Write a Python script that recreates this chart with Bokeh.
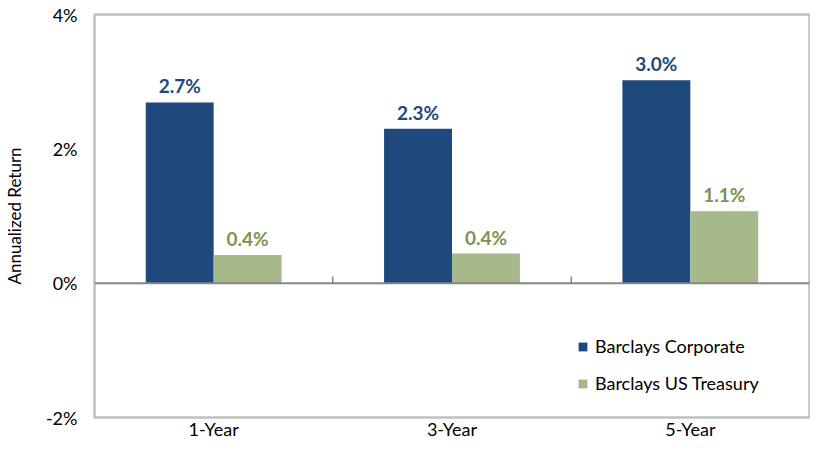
from bokeh.plotting import figure
from bokeh.models import (ColumnDataSource, FactorRange, Range1d, FixedTicker,
                          PrintfTickFormatter, Span, LabelSet, Legend, LegendItem)
from bokeh.core.properties import value
from bokeh.transform import dodge
from bokeh.embed import file_html
from bokeh.resources import INLINE

# ---- data ----
periods = ["1-Year", "3-Year", "5-Year"]
corporate = [2.69, 2.30, 3.02]
treasury = [0.42, 0.44, 1.07]
series_names = ["Barclays Corporate", "Barclays US Treasury"]
y_ticks = [-2, 0, 2, 4]
y_label = "Annualized Return"

FONT = "Lato"
BLUE = "#1F497D"
GREEN = "#A6B98B"
GREEN_TXT = "#7A9450"

src = ColumnDataSource(dict(
    cat=periods,
    corp=corporate,
    tsy=treasury,
    corp_lbl=[f"{v:.1f}%" for v in corporate],
    tsy_lbl=[f"{v:.1f}%" for v in treasury],
    zero=[0] * len(periods),
))

p = figure(x_range=FactorRange(*periods), y_range=Range1d(-2, 4),
           width=810, height=442,
           output_backend="svg", toolbar_location=None,
           min_border_left=89, min_border_right=1, min_border_top=14,
           min_border_bottom=22)
p.title.visible = False
p.background_fill_color = "white"
p.border_fill_color = "white"
p.outline_line_color = "#C0C0C0"
p.outline_line_width = 2.5
p.xgrid.grid_line_color = None
p.ygrid.grid_line_color = None

w = 0.285
r1 = p.vbar(x=dodge("cat", -w / 2, range=p.x_range), top="corp", bottom="zero",
            width=w, source=src, fill_color=BLUE, line_color=None)
r2 = p.vbar(x=dodge("cat", w / 2, range=p.x_range), top="tsy", bottom="zero",
            width=w, source=src, fill_color=GREEN, line_color=None)

# zero line
p.add_layout(Span(location=0, dimension="width", line_color="#868686", line_width=2))

# small ticks on zero line at category boundaries
bsrc = ColumnDataSource(dict(cat=periods[:-1], y0=[0] * (len(periods) - 1),
                             y1=[0.1] * (len(periods) - 1)))
p.segment(x0=dodge("cat", 0.5, range=p.x_range), x1=dodge("cat", 0.5, range=p.x_range),
          y0="y0", y1="y1", source=bsrc, line_color="#868686", line_width=1.5)

# data labels
p.add_layout(LabelSet(x=dodge("cat", -w / 2, range=p.x_range), y="corp", text="corp_lbl",
                      source=src, text_align="center", text_baseline="alphabetic",
                      y_offset=9, text_font=value(FONT), text_font_style="bold",
                      text_font_size="19px", text_color=BLUE))
p.add_layout(LabelSet(x=dodge("cat", w / 2, range=p.x_range), y="tsy", text="tsy_lbl",
                      source=src, text_align="center", text_baseline="alphabetic",
                      y_offset=9, text_font=value(FONT), text_font_style="bold",
                      text_font_size="19px", text_color=GREEN_TXT))

# axes
p.yaxis.ticker = FixedTicker(ticks=y_ticks)
p.yaxis.formatter = PrintfTickFormatter(format="%d%%")
p.yaxis.axis_line_color = None
p.yaxis.major_tick_line_color = None
p.yaxis.minor_tick_line_color = None
p.yaxis.major_tick_out = 0
p.yaxis.major_tick_in = 0
p.yaxis.minor_tick_out = 0
p.yaxis.major_label_standoff = 17
p.yaxis.major_label_text_font = FONT
p.yaxis.major_label_text_font_size = "18px"
p.yaxis.major_label_text_color = "#000000"
p.yaxis.axis_label = y_label
p.yaxis.axis_label_text_font = FONT
p.yaxis.axis_label_text_font_size = "17px"
p.yaxis.axis_label_text_font_style = "normal"
p.yaxis.axis_label_text_color = "#000000"
p.yaxis.axis_label_standoff = 18

p.xaxis.axis_line_color = None
p.xaxis.major_tick_line_color = None
p.xaxis.minor_tick_line_color = None
p.xaxis.major_tick_out = 0
p.xaxis.major_tick_in = 0
p.xaxis.minor_tick_out = 0
p.xaxis.major_label_standoff = 0
p.xaxis.major_label_text_font = FONT
p.xaxis.major_label_text_font_size = "18px"
p.xaxis.major_label_text_color = "#000000"

legend = Legend(items=[LegendItem(label=series_names[0], renderers=[r1]),
                       LegendItem(label=series_names[1], renderers=[r2])],
                location=(483, 23), padding=0, margin=0, spacing=15,
                glyph_width=11, glyph_height=11, label_standoff=7,
                label_text_font=FONT, label_text_font_size="18px",
                label_text_color="#000000", border_line_color=None,
                background_fill_alpha=0)
p.add_layout(legend)

open("out.html", "w").write(file_html(p, INLINE))
